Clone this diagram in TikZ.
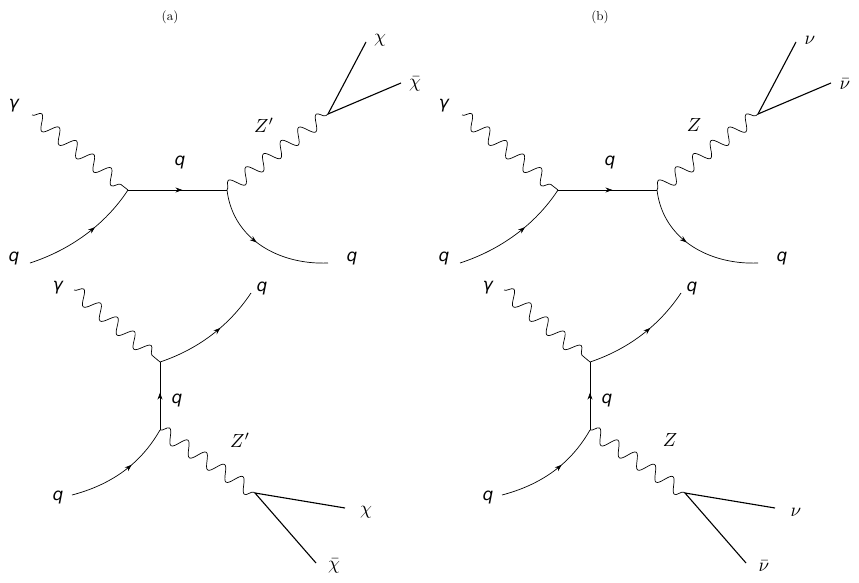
\RequirePackage{fix-cm}
\documentclass[tikz,border=0pt]{standalone}
\usepackage{fontspec}
\newfontfamily\djv{DejaVu Sans}
\usetikzlibrary{decorations.pathmorphing,decorations.markings,arrows.meta}
\tikzset{
 fer/.style={line width=0.7pt},
 ferA/.style={fer,postaction={decorate},decoration={markings,mark=at position #1 with {\arrow{Stealth[length=7pt,width=5pt]}}}},
 pho/.style={line width=0.7pt,decorate,decoration={snake,segment length=22pt,amplitude=7pt}},
 dm/.style={line width=1.1pt},
 ql/.style={font=\fontsize{17}{17}\selectfont\djv\itshape},
 ml/.style={scale=1.9,transform shape=false},
 pt/.style={inner sep=0pt,minimum size=0pt}
}
\newcommand\mm[1]{\scalebox{1.9}{$#1$}}
\newcommand\mydiag[5]{% #1 prefix, #2 boson, #3 particle, #4 antiparticle, #5 title
\node (#1t) at (170,17) {\scalebox{1.3}{#5}};
% top
\node[ql] (#1g1) at (14,106) {γ};
\coordinate (#1ga) at (32,115);
\coordinate (#1v1) at (128,190);
\coordinate (#1v2) at (227,190);
\coordinate (#1qi) at (30,263);
\coordinate (#1qo) at (328,263);
\coordinate (#1zv) at (328,114);
\coordinate (#1c1) at (366,42);
\coordinate (#1c2) at (401,83);
\node[ql] at (14,258) (#1lq1) {q};
\node[ql] at (180,162) (#1lq2) {q};
\node[ql] at (352,258) (#1lq3) {q};
\node at (264,125) (#1lz1) {\mm{#2}};
\node at (380,40) (#1lx1) {\mm{#3}};
\node at (415,84) (#1lx2) {\mm{#4}};
\draw[pho] (#1ga) -- (#1v1);
\draw[ferA=0.6] (#1qi) .. controls (70,250) and (105,225) .. (#1v1);
\draw[ferA=0.55] (#1v1) -- (#1v2);
\draw[ferA=0.45] (#1v2) .. controls (233,240) and (280,265) .. (#1qo);
\draw[pho] (#1v2) -- (#1zv);
\draw[dm] (#1zv) -- (#1c1);
\draw[dm] (#1zv) -- (#1c2);
% bottom
\node[ql] (#1g2) at (58,288) {γ};
\coordinate (#1gb) at (74,290);
\coordinate (#1v3) at (160,362);
\coordinate (#1v4) at (160,430);
\coordinate (#1qo2) at (251,293);
\coordinate (#1qi2) at (72,495);
\coordinate (#1zv2) at (255,493);
\coordinate (#1c3) at (345,508);
\coordinate (#1c4) at (316,563);
\node[ql] at (262,288) (#1lq4) {q};
\node[ql] at (177,400) (#1lq5) {q};
\node[ql] at (58,497) (#1lq6) {q};
\node at (240,440) (#1lz2) {\mm{#2}};
\node at (366,512) (#1lx3) {\mm{#3}};
\node at (334,566) (#1lx4) {\mm{#4}};
\draw[pho] (#1gb) -- (#1v3);
\draw[ferA=0.6] (#1v3) .. controls (190,352) and (225,332) .. (#1qo2);
\draw[ferA=0.55] (#1v4) -- (#1v3);
\draw[ferA=0.6] (#1qi2) .. controls (110,485) and (140,465) .. (#1v4);
\draw[pho] (#1v4) -- (#1zv2);
\draw[dm] (#1zv2) -- (#1c3);
\draw[dm] (#1zv2) -- (#1c4);
}
\begin{document}
\begin{tikzpicture}[x=1pt,y=-1pt]
\useasboundingbox (0,0) rectangle (859,583);
\mydiag{a}{Z'}{\chi}{\bar\chi}{(a)}
\begin{scope}[xshift=430pt]
\mydiag{b}{Z}{\nu}{\bar\nu}{(b)}
\end{scope}
\end{tikzpicture}
\end{document}
